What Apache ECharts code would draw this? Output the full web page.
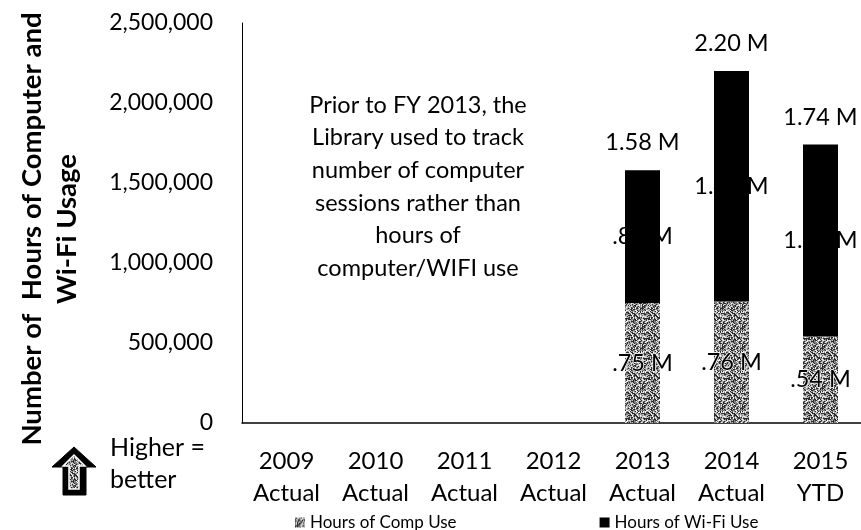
<!DOCTYPE html>
<html><head><meta charset="utf-8">
<script src="https://cdn.jsdelivr.net/npm/echarts@6/dist/echarts.min.js"></script>
<style>html,body{margin:0;padding:0;background:#fff}#c{width:861px;height:530px}</style>
</head><body><div id="c"></div>
<script>
const categories = ['2009\nActual','2010\nActual','2011\nActual','2012\nActual','2013\nActual','2014\nActual','2015\nYTD'];
const compHours = [null, null, null, null, 750000, 760000, 540000];
const wifiHours = [null, null, null, null, 830000, 1440000, 1200000];
const yTicks = [0, 500000, 1000000, 1500000, 2000000, 2500000];
const noteText = 'Prior to FY 2013, the\nLibrary used to track\nnumber of computer\nsessions rather than\nhours of\ncomputer/WIFI use';

const totals = compHours.map((v, i) => (v == null && wifiHours[i] == null) ? null : (v || 0) + (wifiHours[i] || 0));

function fmtM(v) {
  const s = (v / 1e6).toFixed(2);
  return (s.startsWith('0') ? s.slice(1) : s) + ' M';
}

// deterministic speckle texture for the "Comp" bars
function makePattern() {
  const c = document.createElement('canvas');
  c.width = 20; c.height = 20;
  const ctx = c.getContext('2d');
  let seed = 12345;
  const next = () => { seed = (seed * 1103515245 + 12345) & 0x7fffffff; return seed / 0x7fffffff; };
  for (let y = 0; y < 20; y++) for (let x = 0; x < 20; x++) {
    const r = next();
    const g = r < 0.33 ? 45 : (r < 0.6 ? 130 : (r < 0.82 ? 190 : 240));
    ctx.fillStyle = `rgb(${g},${g},${g})`;
    ctx.fillRect(x, y, 1, 1);
  }
  return c;
}
const pattern = { image: makePattern(), repeat: 'repeat' };
const FONT = 'Lato';

const chart = echarts.init(document.getElementById('c'), null, { renderer: 'canvas' });
chart.setOption({
  animation: false,
  textStyle: { fontFamily: FONT },
  grid: { left: 242, top: 23, bottom: 107, width: 623, outerBoundsMode: 'none', containLabel: false },
  legend: {
    data: ['Hours of Comp Use', 'Hours of Wi-Fi Use'],
    icon: 'rect',
    left: 290, top: 509, itemWidth: 10, itemHeight: 10, itemGap: 143,
    textStyle: { fontFamily: FONT, fontSize: 17, color: '#000' }
  },
  xAxis: {
    type: 'category', data: categories,
    axisLine: { lineStyle: { color: '#000', width: 1.5 } },
    axisTick: { show: false },
    axisLabel: { color: '#000', fontSize: 24, lineHeight: 32, margin: 22, interval: 0, fontFamily: FONT }
  },
  yAxis: {
    type: 'value', min: 0, max: 2500000, interval: 500000,
    name: 'Number of  Hours of Computer and\nWi-Fi Usage',
    nameLocation: 'middle', nameRotate: 90, nameGap: 157,
    nameTextStyle: { fontFamily: FONT, fontSize: 27.5, fontWeight: 'bold', color: '#000', lineHeight: 35, padding: [0, 12, 0, 0] },
    axisLine: { show: true, lineStyle: { color: '#000', width: 1 } },
    axisTick: { show: false },
    splitLine: { show: false },
    axisLabel: {
      color: '#000', fontSize: 23, margin: 29, fontFamily: FONT,
      formatter: v => yTicks.includes(v) ? v.toLocaleString('en-US') : ''
    }
  },
  series: [
    {
      name: 'Hours of Comp Use', type: 'bar', stack: 'u', data: compHours, barWidth: 35,
      itemStyle: { color: pattern },
      label: { show: true, position: 'inside', color: '#000', fontSize: 23.5, fontFamily: FONT,
        textBorderColor: '#fff', textBorderWidth: 1.5, formatter: p => fmtM(p.value) }
    },
    {
      name: 'Hours of Wi-Fi Use', type: 'bar', stack: 'u', data: wifiHours, barWidth: 35,
      itemStyle: { color: '#000' },
      label: { show: true, position: 'inside', color: '#000', fontSize: 23.5, fontFamily: FONT,
        formatter: p => fmtM(p.value) }
    },
    {
      name: 'Total', type: 'scatter', data: totals, symbolSize: 1,
      itemStyle: { color: 'transparent', opacity: 1 }, silent: true,
      label: { show: true, position: 'top', distance: 15, color: '#000', opacity: 1, fontSize: 23.5, fontFamily: FONT,
        formatter: p => fmtM(p.value) }
    }
  ],
  graphic: [
    {
      type: 'text',
      style: { text: noteText, x: 418, y: 89, textAlign: 'center', fontFamily: FONT, fontSize: 23.5, lineHeight: 32.6, fill: '#000' }
    },
    {
      type: 'polygon',
      shape: { points: [[74,447],[96,467],[86,467],[86,495],[63,495],[63,467],[52,467]] },
      style: { fill: '#000', stroke: '#000', lineWidth: 1 }
    },
    {
      type: 'polygon',
      shape: { points: [[74,455],[85,466],[79,466],[79,489],[69,489],[69,466],[63,466]] },
      style: { fill: pattern, stroke: '#fff', lineWidth: 1.5 }
    },
    {
      type: 'text',
      style: { text: 'Higher =\nbetter', x: 110, y: 432, fontFamily: FONT, fontSize: 25, lineHeight: 32, fill: '#000' }
    }
  ]
});
</script></body></html>
